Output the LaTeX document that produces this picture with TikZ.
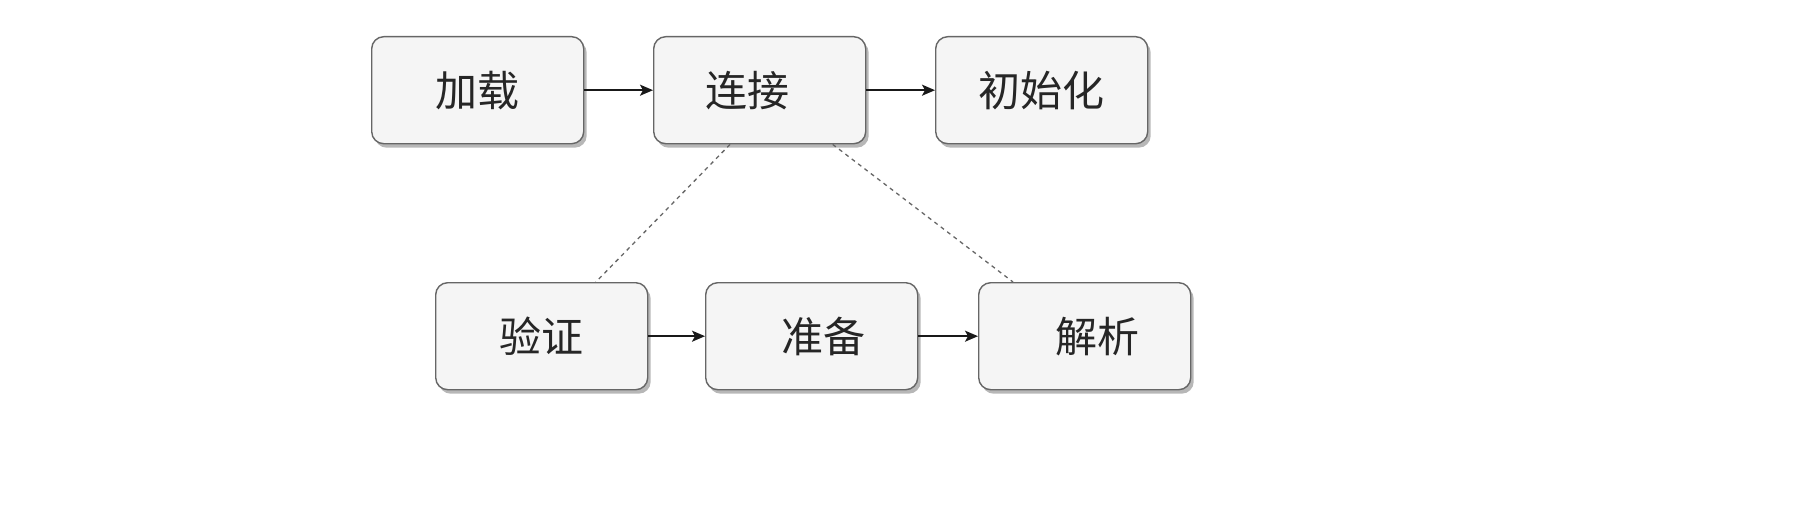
\documentclass[tikz,border=0pt]{standalone}
\usepackage{fontspec}
\newfontfamily\cjk{Noto Sans CJK SC}
\usetikzlibrary{shadows,arrows.meta,calc}
\definecolor{boxfill}{HTML}{F5F5F5}
\definecolor{boxline}{HTML}{666666}
\tikzset{
  stepbox/.style={draw=boxline, fill=boxfill, line width=1.4pt, rounded corners=12pt,
    minimum width=212pt, minimum height=107pt, inner sep=0pt, anchor=north west,
    font=\cjk\fontsize{42pt}{50pt}\selectfont, text=black!85,
    drop shadow={shadow xshift=3pt, shadow yshift=-4pt, opacity=0.4, fill=black!70}},
  flow/.style={line width=1.6pt, -{Stealth[length=13pt,width=11pt,inset=3pt]}, black!90},
  dashlink/.style={line width=1.3pt, dash pattern=on 4pt off 4pt, boxline}
}
\begin{document}
\begin{tikzpicture}[x=1pt,y=-1pt]
\useasboundingbox (0,0) rectangle (1819,508);
\node[stepbox] (jz) at (371,36) {加载};
\node[stepbox] (lj) at (653,36) {连接\hspace*{24pt}};
\node[stepbox] (csh) at (935,36) {初始化};
\node[stepbox] (yz) at (435,282) {验证};
\node[stepbox] (zb) at (705,282) {\hspace*{24pt}准备};
\node[stepbox] (jx) at (978,282) {\hspace*{26pt}解析};
\draw[flow] (jz.east) -- (lj.west);
\draw[flow] (lj.east) -- (csh.west);
\draw[flow] (yz.east) -- (zb.west);
\draw[flow] (zb.east) -- (jx.west);
\coordinate (a1) at ($(lj.south west)!0.361!(lj.south east)$);
\coordinate (a2) at ($(yz.north west)!0.754!(yz.north east)$);
\coordinate (b1) at ($(lj.south west)!0.842!(lj.south east)$);
\coordinate (b2) at ($(jx.north west)!0.164!(jx.north east)$);
\draw[dashlink] (a1) -- (a2);
\draw[dashlink] (b1) -- (b2);
\end{tikzpicture}
\end{document}
